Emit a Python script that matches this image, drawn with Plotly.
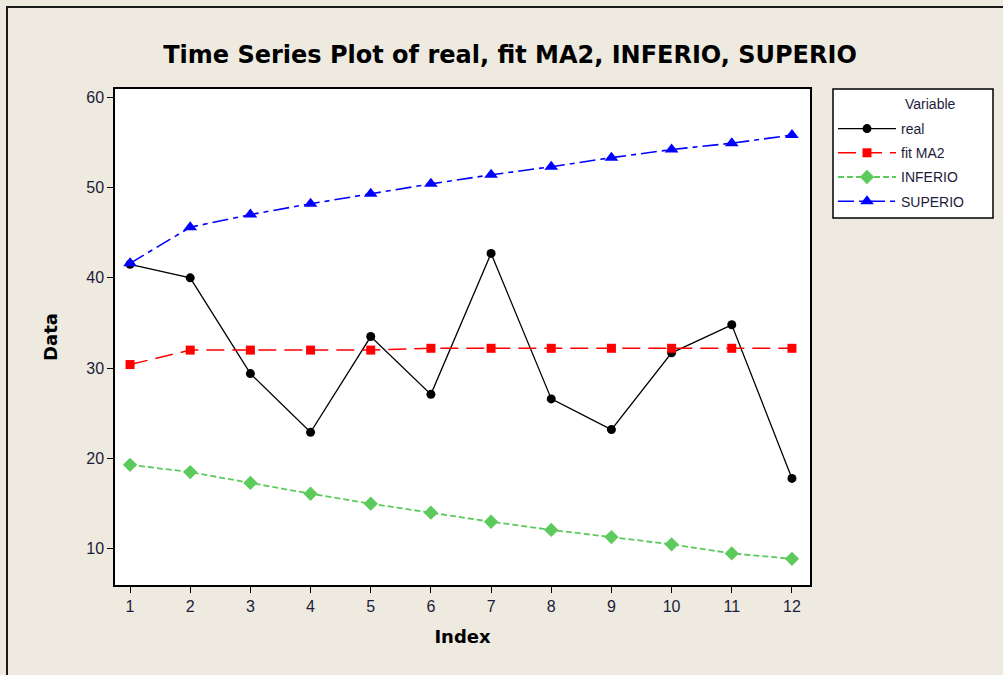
import plotly.graph_objects as go

# Series values for the time-series plot
index = list(range(1, 13))
real = [41.5, 40.0, 29.4, 22.9, 33.5, 27.1, 42.7, 26.6, 23.2, 31.7, 34.8, 17.8]
fit_ma2 = [30.4, 32.0, 32.0, 32.0, 32.0, 32.2, 32.2, 32.2, 32.2, 32.2, 32.2, 32.2]
inferio = [19.3, 18.5, 17.3, 16.1, 15.0, 14.0, 13.0, 12.1, 11.3, 10.5, 9.5, 8.9]
superio = [41.6, 45.6, 47.0, 48.2, 49.3, 50.4, 51.4, 52.3, 53.3, 54.2, 54.9, 55.8]

y_ticks = [10, 20, 30, 40, 50, 60]

BG = "#EEEAE0"
TEXT = "#1c1c3a"
TICK_FONT = dict(family="Liberation Sans, Arial, sans-serif", size=16, color=TEXT)
LEG_FONT = dict(family="Liberation Sans, Arial, sans-serif", size=14, color=TEXT)

# plot-area pixel geometry, used to place items outside the axes
L, R, T, B = 115, 810, 89, 585


def px(x):
    return (x - L) / (R - L)


def py(y):
    return (B - y) / (B - T)


fig = go.Figure()

series = [
    ("real", real, "#000000", "solid", "circle", 9, 1.3),
    ("fit MA2", fit_ma2, "#FF0000", "18px,8px", "square", 9, 1.5),
    ("INFERIO", inferio, "#5CCB5C", "6px,3px", "diamond", 11, 1.8),
    ("SUPERIO", superio, "#0000FF", "16px,5px,5px,5px", "triangle-up", 12, 1.6),
]
for name, vals, color, dash, symbol, msize, lw in series:
    fig.add_trace(go.Scatter(
        x=index, y=vals, name=name, legendgroup=name,
        mode="lines+markers",
        line=dict(color=color, width=lw, dash=dash),
        marker=dict(color=color, symbol=symbol, size=msize),
    ))

fig.update_layout(
    width=1003, height=675,
    margin=dict(l=L, r=1003 - R, t=T, b=675 - B),
    paper_bgcolor=BG, plot_bgcolor="#FFFFFF",
    title=dict(
        text="<b>Time Series Plot of real, fit MA2, INFERIO, SUPERIO</b>",
        x=510 / 1003, xanchor="center", y=1 - 55 / 675, yanchor="middle",
        font=dict(family="DejaVu Sans, Verdana, sans-serif", size=24, color="#000000"),
    ),
    showlegend=True,
    legend=dict(
        x=px(833), xanchor="left", y=py(113), yanchor="top",
        bgcolor="rgba(0,0,0,0)", borderwidth=0,
        font=LEG_FONT,
        tracegroupgap=3, itemwidth=58,
    ),
    xaxis=dict(
        range=[0.75, 12.3], tickmode="array", tickvals=index,
        ticks="outside", ticklen=6, tickcolor="#000000", tickwidth=1,
        showline=True, linecolor="#000000", linewidth=1.5, mirror=True,
        showgrid=False, zeroline=False, tickfont=TICK_FONT,
        title=dict(text="<b>Index</b>", standoff=16,
                   font=dict(family="DejaVu Sans, Verdana, sans-serif", size=18, color="#000000")),
    ),
    yaxis=dict(
        range=[6.0, 60.9], tickmode="array", tickvals=y_ticks,
        ticks="outside", ticklen=6, tickcolor="#000000", tickwidth=1,
        showline=True, linecolor="#000000", linewidth=1.5, mirror=True,
        showgrid=False, zeroline=False, tickfont=TICK_FONT,
        title=dict(text="<b>Data</b>", standoff=24,
                   font=dict(family="DejaVu Sans, Verdana, sans-serif", size=18, color="#000000")),
    ),
)

# Legend box and its heading
fig.add_shape(
    type="rect", xref="paper", yref="paper",
    x0=px(833), x1=px(993), y0=py(218), y1=py(89),
    fillcolor="#FFFFFF", line=dict(color="#000000", width=1.5), layer="below",
)
fig.add_annotation(
    xref="paper", yref="paper", x=px(903), y=py(104),
    xanchor="left", yanchor="middle", showarrow=False,
    text="Variable", font=LEG_FONT,
)

# Outer frame along the left and top edges of the window
fig.add_shape(
    type="path", xref="paper", yref="paper",
    path=f"M {px(7)},-0.3 L {px(7)},{py(7)} L 1.5,{py(7)}",
    line=dict(color="#1a1a1a", width=2),
)

fig.write_html("out.html")
